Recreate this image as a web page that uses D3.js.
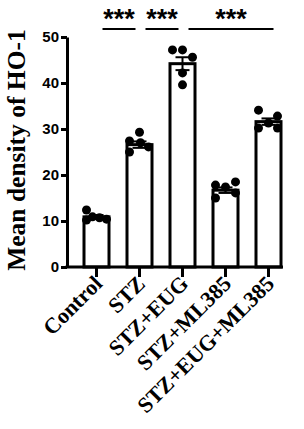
<!DOCTYPE html>
<html lang="en">
<head>
    <meta charset="UTF-8"/>
    <title>Mean density of HO-1</title>
    <script src="https://d3js.org/d3.v7.min.js"></script>
    <style>
        body { margin: 0; background: #fff; }
    </style>
</head>
<body>
    <script>
        var groups = ["Control", "STZ", "STZ+EUG", "STZ+ML385", "STZ+EUG+ML385"];
        var means = [10.9, 26.6, 44.2, 16.7, 31.6];
        var sems = [0.4, 0.7, 1.4, 0.6, 0.7];
        var points = [
            [12.4, 10.2, 10.9, 10.7, 10.4],
            [29.3, 27.4, 25.0, 27.0, 26.1],
            [47.2, 47.2, 45.6, 42.2, 39.6],
            [17.8, 17.4, 18.5, 15.0, 16.1],
            [34.1, 32.8, 31.3, 30.2, 30.2]
        ];
        var yTicks = [0, 10, 20, 30, 40, 50];
        var comparisons = [[0, 1, "***"], [1, 2, "***"], [2, 4, "***"]];

        // horizontal scatter offsets of the dots (px)
        var jitter = [
            [-10, -10, -4, 3, 10],
            [0, -10, -10, 1, 9],
            [-10, 0, 10, 0, 0],
            [-10, 0, 10, -10, 10],
            [-10, 9, 0, -10, 9]
        ];

        var w = 304, h = 429;
        var axisX = 67, axisY = 267;

        var svg = d3.select("body")
                    .append("svg")
                    .attr("width", w)
                    .attr("height", h);

        var x = d3.scaleBand()
                  .domain(groups)
                  .range([75, 290]);

        var y = d3.scaleLinear()
                  .domain([0, 50])
                  .range([axisY, 37]);

        var cx = function(i){ return x(groups[i]) + x.bandwidth() / 2; };
        var barW = 25;

        // bars
        svg.selectAll("rect.bar")
            .data(means)
            .enter()
            .append("rect")
            .attr("class", "bar")
            .attr("x", function(d, i){ return cx(i) - barW / 2; })
            .attr("y", function(d){ return y(d); })
            .attr("width", barW)
            .attr("height", function(d){ return axisY - y(d); })
            .attr("fill", "white")
            .attr("stroke", "black")
            .attr("stroke-width", 3);

        // dots
        points.forEach(function(vals, i){
            svg.selectAll("circle.g" + i)
                .data(vals)
                .enter()
                .append("circle")
                .attr("class", "g" + i)
                .attr("cx", function(d, j){ return cx(i) + jitter[i][j]; })
                .attr("cy", function(d){ return y(d); })
                .attr("r", 4.5)
                .attr("fill", "black");
        });

        // error bars (SEM)
        var err = svg.append("g")
                     .attr("stroke", "black")
                     .attr("stroke-width", 2);
        means.forEach(function(m, i){
            var c = cx(i);
            err.append("line")
               .attr("x1", c).attr("x2", c)
               .attr("y1", y(m - sems[i])).attr("y2", y(m + sems[i]));
            [m - sems[i], m + sems[i]].forEach(function(v){
                err.append("line")
                   .attr("x1", c - 7).attr("x2", c + 7)
                   .attr("y1", y(v)).attr("y2", y(v));
            });
        });

        // y axis
        var yAxis = svg.append("g")
            .attr("transform", "translate(" + axisX + ",0)")
            .call(d3.axisLeft(y).tickValues(yTicks).tickSize(6).tickSizeOuter(0));
        yAxis.selectAll("path, line").attr("stroke", "black").attr("stroke-width", 3);
        yAxis.selectAll("text")
             .attr("font-family", "Liberation Sans, Arial, sans-serif")
             .attr("font-weight", "bold")
             .attr("font-size", 15)
             .attr("fill", "black")
             .attr("x", -8);

        // x axis
        var xAxis = svg.append("g")
            .attr("transform", "translate(0," + axisY + ")")
            .call(d3.axisBottom(x).tickSize(10).tickSizeOuter(0).tickFormat(""));
        xAxis.select(".domain").attr("d", "M" + (axisX - 1.5) + ",0H283");
        xAxis.selectAll("path, line").attr("stroke", "black").attr("stroke-width", 3);

        svg.selectAll("text.xlab")
            .data(groups)
            .enter()
            .append("text")
            .attr("class", "xlab")
            .attr("transform", function(d){
                return "translate(" + (x(d) + x.bandwidth() / 2 + 7) + "," + (axisY + 18) + ") rotate(-45)";
            })
            .attr("text-anchor", "end")
            .attr("font-family", "Liberation Serif, Times New Roman, serif")
            .attr("font-weight", "bold")
            .attr("font-size", 22)
            .text(function(d){ return d; });

        // y title
        svg.append("text")
            .attr("transform", "translate(25," + (y(25) - 2) + ") rotate(-90)")
            .attr("text-anchor", "middle")
            .attr("font-family", "Liberation Serif, Times New Roman, serif")
            .attr("font-weight", "bold")
            .attr("font-size", 25.5)
            .text("Mean density of HO-1");

        // significance
        comparisons.forEach(function(c){
            var x1 = cx(c[0]) + 6;
            var x2 = cx(c[1]) + (c[1] - c[0] > 1 ? 5 : -4);
            svg.append("line")
               .attr("x1", x1).attr("x2", x2)
               .attr("y1", 29).attr("y2", 29)
               .attr("stroke", "black")
               .attr("stroke-width", 2);
            svg.append("text")
               .attr("x", (x1 + x2) / 2)
               .attr("y", 28)
               .attr("text-anchor", "middle")
               .attr("font-family", "Liberation Sans, Arial, sans-serif")
               .attr("font-weight", "bold")
               .attr("font-size", 27)
               .text(c[2]);
        });
    </script>
</body>
</html>
